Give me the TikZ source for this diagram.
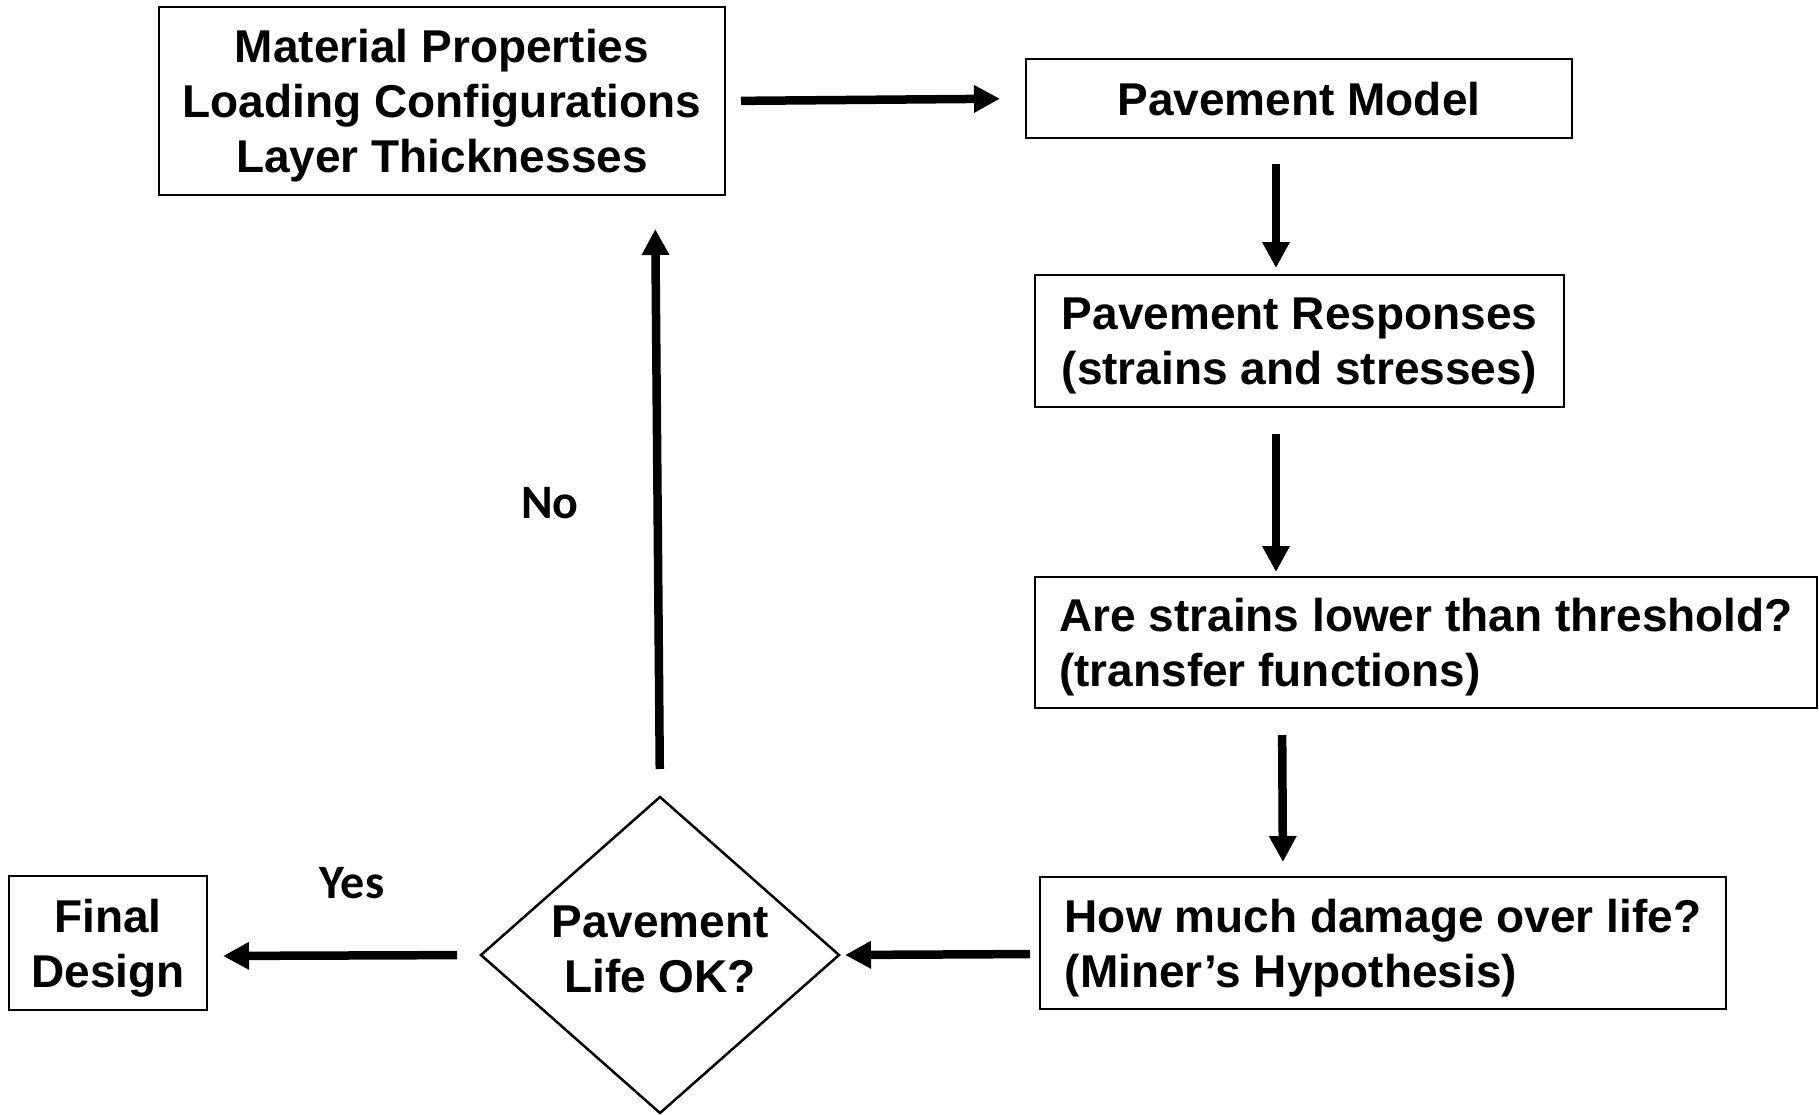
\documentclass[tikz,border=0pt]{standalone}
\usepackage{fontspec}
\setmainfont{Liberation Sans}
\newfontfamily\yesnofont{Carlito}
\usetikzlibrary{arrows.meta,shapes.geometric}
\begin{document}
\begin{tikzpicture}[x=0.5pt,y=-0.5pt,
  box/.style={draw, line width=1.25pt, inner sep=0pt, outer sep=0pt, text depth=-1pt,
    font=\fontsize{23pt}{27.5pt}\selectfont\bfseries, align=center},
  flow/.style={line width=4.25pt, -{Triangle[length=13pt,width=13pt]}},
  lab/.style={font=\yesnofont\fontsize{24pt}{28pt}\selectfont\bfseries}]
\useasboundingbox (0,0) rectangle (1819,1114);

\node[box, minimum width=283pt, minimum height=94pt] (inputs) at (442,101)
  {Material Properties\\Loading Configurations\\Layer Thicknesses};
\node[box, minimum width=273pt, minimum height=39.5pt] (model) at (1299,98.5)
  {Pavement Model};
\node[box, minimum width=264.5pt, minimum height=66pt] (resp) at (1299.5,341)
  {Pavement Responses\\(strains and stresses)};
\node[box, align=left, minimum width=391pt, minimum height=65.5pt] (thresh) at (1426,642.5)
  {Are strains lower than threshold?\\(transfer functions)};
\node[box, align=left, minimum width=343pt, minimum height=66pt] (damage) at (1383,943)
  {How much damage over life?\\(Miner’s Hypothesis)};
\node[box, minimum width=99pt, minimum height=67pt] (final) at (108,943)
  {Final\\Design};
\node[box, shape=diamond, text depth=6pt, minimum width=179pt, minimum height=158pt] (ok) at (660,955)
  {Pavement\\Life OK?};

\node[lab] (no) at (550,503) {No};
\node[lab] (yes) at (352,883) {Yes};

\draw[flow, shorten <=8pt, shorten >=13pt] (inputs.east) -- (model.west);
\draw[flow, shorten <=13pt, shorten >=3.5pt] ([xshift=-11.5pt]model.south) -- ([xshift=-11.75pt]resp.north);
\draw[flow, shorten <=13.5pt, shorten >=2.5pt] ([xshift=-11.75pt]resp.south) -- ([xshift=-75pt]thresh.north);
\draw[flow, shorten <=13.5pt, shorten >=7.5pt] ([xshift=-72pt]thresh.south) -- ([xshift=-50pt]damage.north);
\draw[flow, shorten <=5pt, shorten >=3pt] ([yshift=-5.5pt]damage.west) -- (ok.east);
\draw[flow, shorten <=12pt, shorten >=8pt] (ok.west) -- ([yshift=-6.5pt]final.east);
\draw[flow, shorten <=14pt, shorten >=17pt] (ok.north) -- ([xshift=106.5pt]inputs.south);
\end{tikzpicture}
\end{document}
